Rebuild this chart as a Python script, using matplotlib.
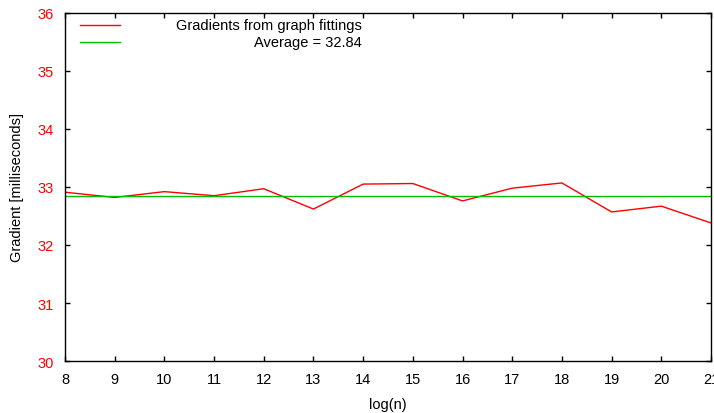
import matplotlib

matplotlib.use("Agg")
import matplotlib.pyplot as plt

plt.rcParams["font.family"] = ["Liberation Sans", "DejaVu Sans"]

# log(n) values and fitted gradients (milliseconds)
log_n = [8, 9, 10, 11, 12, 13, 14, 15, 16, 17, 18, 19, 20, 21]
gradients = [32.91, 32.82, 32.92, 32.85, 32.97, 32.62, 33.05, 33.06, 32.76, 32.98, 33.07, 32.57, 32.67, 32.38]
average = 32.84

x_ticks = list(range(8, 22))
y_ticks = [30, 31, 32, 33, 34, 35, 36]

fig = plt.figure(figsize=(7.14, 4.14), dpi=100)
ax = fig.add_axes([0.091, 0.1256, 0.9048, 0.8406])

ax.plot(log_n, gradients, color="#ff0000", linewidth=1.0)
ax.axhline(average, color="#00c000", linewidth=1.0)

ax.set_xlim(8, 21)
ax.set_ylim(30, 36)
ax.set_xticks(x_ticks)
ax.set_yticks(y_ticks)
ax.tick_params(direction="in", length=3.5, width=1, top=True, right=True, labelsize=10.5, pad=8)
for label in ax.get_yticklabels():
    label.set_color("#ff0000")
for spine in ax.spines.values():
    spine.set_linewidth(1.0)

ax.set_xlabel("log(n)", fontsize=10.5, labelpad=8)
ax.set_ylabel("Gradient [milliseconds]", fontsize=10.5, labelpad=10)

# gnuplot style key: sample on the left, text right-justified
ax.plot([0.023, 0.085], [0.966, 0.966], color="#ff0000", linewidth=1.0, transform=ax.transAxes)
ax.plot([0.023, 0.085], [0.917, 0.917], color="#00c000", linewidth=1.0, transform=ax.transAxes)
ax.text(0.46, 0.966, "Gradients from graph fittings", transform=ax.transAxes, ha="right", va="center", fontsize=10.5)
ax.text(0.46, 0.917, f"Average = {average}", transform=ax.transAxes, ha="right", va="center", fontsize=10.5)

fig.savefig("out.png", dpi=100)
